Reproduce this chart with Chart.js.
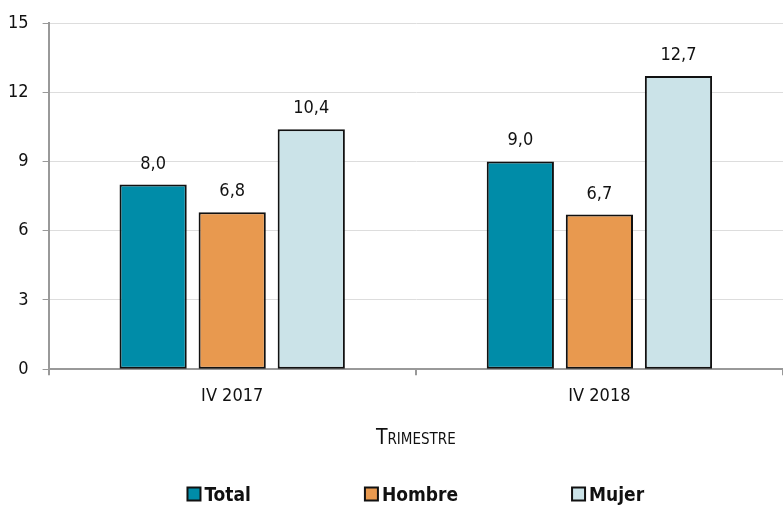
<!DOCTYPE html>
<html>
<head>
<meta charset="utf-8">
<script src="https://cdn.jsdelivr.net/npm/chart.js@4"></script>
<style>
  html, body { margin: 0; padding: 0; background: #fff; }
  #wrap { width: 783px; height: 507px; position: relative; }
</style>
</head>
<body>
<div id="wrap"><canvas id="chart"></canvas></div>
<script>
(function () {
    'use strict';

    var categories = ['IV 2017', 'IV 2018'];
    var seriesNames = ['Total', 'Hombre', 'Mujer'];
    var totalValues = [8.0, 9.0];
    var hombreValues = [6.8, 6.7];
    var mujerValues = [10.4, 12.7];
    var yTicks = [0, 3, 6, 9, 12, 15];

    var FONT = '"Liberation Sans Narrow", "DejaVu Sans Condensed", sans-serif';
    var colors = ['#008ca8', '#e8994f', '#cbe3e8'];

    // value labels above the bars, decimal comma
    var valueLabels = {
        id: 'valueLabels',
        afterDatasetsDraw: function (chart) {
            var ctx = chart.ctx;
            ctx.save();
            ctx.font = '18px ' + FONT;
            ctx.fillStyle = '#111';
            ctx.textAlign = 'center';
            ctx.textBaseline = 'alphabetic';
            chart.data.datasets.forEach(function (ds, i) {
                chart.getDatasetMeta(i).data.forEach(function (bar, j) {
                    ctx.fillText(ds.data[j].toFixed(1).replace('.', ','), bar.x, bar.y - 16);
                });
            });
            ctx.restore();
        }
    };

    // legend drawn by hand so the wide horizontal gaps don't eat vertical space
    var bottomLegend = {
        id: 'bottomLegend',
        afterDraw: function (chart) {
            var ctx = chart.ctx;
            var area = chart.chartArea;
            var box = 13, textGap = 4, itemGap = 114;
            ctx.save();
            ctx.font = 'bold 19px ' + FONT;
            var widths = chart.data.datasets.map(function (ds) {
                return box + textGap + ctx.measureText(ds.label).width;
            });
            var total = widths.reduce(function (a, b) { return a + b; }, 0) + itemGap * (widths.length - 1);
            var x = (area.left + area.right) / 2 - total / 2;
            var y = chart.height - 13;
            ctx.textBaseline = 'middle';
            ctx.textAlign = 'left';
            chart.data.datasets.forEach(function (ds, i) {
                ctx.fillStyle = ds.backgroundColor;
                ctx.fillRect(x, y - box / 2, box, box);
                ctx.lineWidth = 2;
                ctx.strokeStyle = '#111';
                ctx.strokeRect(x, y - box / 2, box, box);
                ctx.fillStyle = '#111';
                ctx.fillText(ds.label, x + box + textGap, y + 2);
                x += widths[i] + itemGap;
            });
            ctx.restore();
        }
    };

    var seriesData = [totalValues, hombreValues, mujerValues];

    new Chart(document.getElementById('chart'), {
        type: 'bar',
        data: {
            labels: categories,
            datasets: seriesNames.map(function (name, i) {
                return {
                    label: name,
                    data: seriesData[i],
                    backgroundColor: colors[i],
                    borderColor: '#111',
                    borderWidth: 2,
                    borderSkipped: false,
                    barPercentage: 0.85,
                    categoryPercentage: 0.646
                };
            })
        },
        options: {
            responsive: true,
            maintainAspectRatio: false,
            animation: false,
            layout: { padding: { top: 8, right: 0, left: -6, bottom: 56 } },
            plugins: {
                legend: { display: false },
                title: { display: false },
                tooltip: { enabled: false }
            },
            scales: {
                x: {
                    grid: {
                        display: true,
                        drawOnChartArea: false,
                        color: '#999',
                        tickLength: 6,
                        lineWidth: 2
                    },
                    border: { color: '#999', width: 2 },
                    ticks: { font: { family: FONT, size: 18 }, color: '#111', padding: 10 },
                    title: {
                        display: true,
                        text: 'Trimestre',
                        font: { family: FONT, size: 21, weight: 'small-caps' },
                        color: '#111',
                        padding: { top: 9, bottom: 0 }
                    }
                },
                y: {
                    min: 0,
                    max: 15,
                    afterBuildTicks: function (axis) {
                        axis.ticks = yTicks.map(function (v) { return { value: v }; });
                    },
                    grid: {
                        color: '#dddddd',
                        lineWidth: 1,
                        tickColor: '#999',
                        tickLength: 6
                    },
                    border: { color: '#999', width: 2 },
                    ticks: { font: { family: FONT, size: 18, lineHeight: 1 }, color: '#111', padding: 14 }
                }
            }
        },
        plugins: [valueLabels, bottomLegend]
    });
})();
</script>
</body>
</html>
